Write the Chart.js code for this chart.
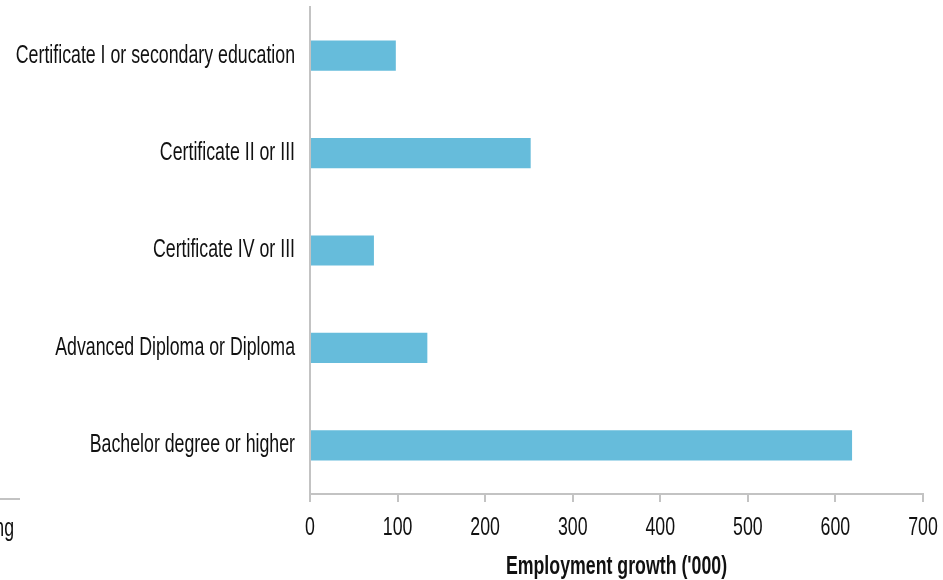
<!DOCTYPE html>
<html>
<head>
<meta charset="utf-8">
<script src="https://cdn.jsdelivr.net/npm/chart.js@4"></script>
<style>
  html, body { margin: 0; padding: 0; background: #ffffff; }
  #wrap { width: 943px; height: 580px; position: relative; }
</style>
</head>
<body>
<div id="wrap"><canvas id="myChart" width="943" height="580"></canvas></div>
<script>
const categories = [
  "Certificate I or secondary education",
  "Certificate II or III",
  "Certificate IV or III",
  "Advanced Diploma or Diploma",
  "Bachelor degree or higher",
];
const growthValues = [98, 252, 73, 134, 619];
const xTicks = [0, 100, 200, 300, 400, 500, 600, 700];
const axisTitle = "Employment growth ('000)";
const legendFragment = "ng";

const fontFamily = "'Liberation Sans', Arial, sans-serif";
const axisGrey = "#c3c3c3";
const textColor = "#111111";
// no narrow face installed, so squeeze the regular one
const narrow = 0.71;

const chart = document.querySelector("#myChart");
const ctx = chart.getContext("2d");
const plainFillText = ctx.fillText.bind(ctx);
ctx.fillText = function (text, x, y, maxWidth) {
  this.save();
  this.translate(x, y);
  this.scale(narrow, 1);
  plainFillText(text, 0, 0);
  this.restore();
};

// leftover legend piece at the bottom left
const legendStub = {
  id: "legendStub",
  afterDraw(chart) {
    const c = chart.ctx;
    c.save();
    c.strokeStyle = axisGrey;
    c.lineWidth = 2;
    c.beginPath();
    c.moveTo(0, 499);
    c.lineTo(20, 499);
    c.stroke();
    c.fillStyle = textColor;
    c.font = "25px " + fontFamily;
    c.textAlign = "right";
    c.textBaseline = "alphabetic";
    c.fillText(legendFragment, 14, 536);
    c.restore();
  },
};

new Chart(chart, {
  type: "bar",
  data: {
    labels: categories,
    datasets: [
      {
        label: "Employment growth",
        data: growthValues,
        backgroundColor: "#66bcdb",
        borderWidth: 0,
        barPercentage: 0.62,
        categoryPercentage: 0.5,
      },
    ],
  },
  options: {
    indexAxis: "y",
    responsive: false,
    animation: false,
    layout: { padding: { left: 0, right: 0, top: 7, bottom: 0 } },
    plugins: { legend: { display: false }, tooltip: { enabled: false } },
    scales: {
      x: {
        min: 0,
        max: 700,
        afterBuildTicks: (scale) => {
          scale.ticks = xTicks.map((v) => ({ value: v }));
        },
        afterFit: (scale) => {
          scale.height = 86;
          scale.paddingLeft = 0;
          scale.paddingRight = 20;
        },
        grid: {
          drawOnChartArea: false,
          drawTicks: true,
          tickLength: 8,
          color: axisGrey,
          lineWidth: 2,
        },
        border: { display: true, color: axisGrey, width: 2 },
        ticks: {
          color: textColor,
          font: { family: fontFamily, size: 25 },
          padding: 11,
          maxRotation: 0,
        },
        title: {
          display: true,
          text: axisTitle,
          color: textColor,
          font: { family: fontFamily, size: 25, weight: "bold" },
          padding: { top: 0, bottom: -2 },
        },
      },
      y: {
        afterFit: (scale) => {
          scale.width = 310;
          scale.paddingTop = 0;
          scale.paddingBottom = 0;
        },
        grid: { display: false, drawTicks: false },
        border: { display: true, color: axisGrey, width: 2 },
        ticks: {
          color: textColor,
          font: { family: fontFamily, size: 25 },
          padding: 15,
        },
      },
    },
  },
  plugins: [legendStub],
});
</script>
</body>
</html>
